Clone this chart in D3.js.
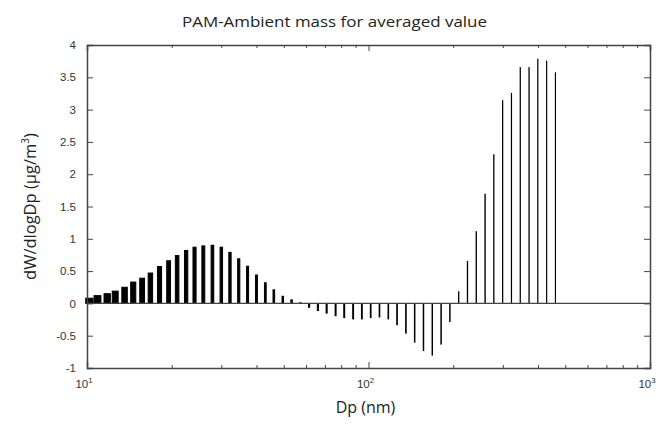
<!DOCTYPE html>
<meta charset="utf-8">
<html>
<head>
<script src="https://d3js.org/d3.v7.min.js"></script>
<style>
  body { margin: 0; background: #fff; }
  .tick text { font-family: "Liberation Sans", Arial, sans-serif; font-size: 11.5px; fill: #333; }
  .axis path, .axis line { stroke: #444; }
</style>
</head>
<body>
<div id="my_dataviz"></div>
<script>
// particle diameter bins (nm), SMPS 32 channels per decade
const dp = [10.2, 10.9, 11.8, 12.6, 13.6, 14.6, 15.7, 16.8, 18.1, 19.5,
            20.9, 22.5, 24.1, 25.9, 27.9, 30.0, 32.2, 34.6, 37.2, 40.0,
            43.0, 46.1, 49.6, 53.3, 57.3, 61.5, 66.1, 71.0, 76.4, 82.0,
            88.2, 94.7, 101.8, 109.4, 117.6, 126.3, 135.8, 145.9, 156.8, 168.5,
            181.1, 194.6, 209.1, 224.7, 241.4, 259.5, 278.8, 299.6, 322.0, 346.0,
            371.8, 399.5, 429.4, 461.4];
// dW/dlogDp difference (PAM - ambient)
const dw = [0.08, 0.12, 0.15, 0.19, 0.25, 0.33, 0.39, 0.47, 0.57, 0.66,
            0.74, 0.82, 0.87, 0.89, 0.90, 0.87, 0.79, 0.69, 0.575, 0.44,
            0.32, 0.21, 0.11, 0.055, 0.01, -0.06, -0.11, -0.15, -0.19, -0.22,
            -0.24, -0.24, -0.22, -0.21, -0.24, -0.33, -0.46, -0.60, -0.73, -0.80,
            -0.63, -0.28, 0.18, 0.65, 1.11, 1.69, 2.30, 3.14, 3.25, 3.65,
            3.65, 3.78, 3.75, 3.57];
const yTicks = [-1, -0.5, 0, 0.5, 1, 1.5, 2, 2.5, 3, 3.5, 4];
const xMajor = [10, 100, 1000];
const xMinor = [20, 30, 40, 50, 60, 70, 80, 90, 200, 300, 400, 500, 600, 700, 800, 900];

const data = dp.map((d, i) => ({dp: d, v: dw[i]}));

const W = 662, H = 426;
const margin = {top: 45, right: 12, bottom: 58, left: 87};
const width = W - margin.left - margin.right,
      height = H - margin.top - margin.bottom;

const svg = d3.select("#my_dataviz")
  .append("svg")
    .attr("width", W)
    .attr("height", H)
  .append("g")
    .attr("transform", `translate(${margin.left},${margin.top})`);

const x = d3.scaleLog().domain([10, 1000]).range([0, width]);
const y = d3.scaleLinear().domain([-1, 4]).range([height, 0]);

// bars: constant width in nm (0.8 x smallest spacing), like matlab bar on log axis
const bw = 0.61;
svg.append("g")
  .selectAll("rect")
  .data(data)
  .join("rect")
    .attr("x", d => x(d.dp - bw / 2))
    .attr("width", d => x(d.dp + bw / 2) - x(d.dp - bw / 2))
    .attr("y", d => y(Math.max(0, d.v)))
    .attr("height", d => Math.abs(y(d.v) - y(0)))
    .attr("fill", "#000")
    .attr("stroke", "#000")
    .attr("stroke-width", 1);

// baseline
svg.append("line")
  .attr("x1", 0).attr("x2", width)
  .attr("y1", y(0)).attr("y2", y(0))
  .attr("stroke", "#444").attr("stroke-width", 1.2);

// axes, ticks pointing inward
const fmtY = d => String(d);
svg.append("g").attr("class", "axis")
  .call(d3.axisLeft(y).tickValues(yTicks).tickSize(-6).tickPadding(11).tickFormat(fmtY));
svg.append("g").attr("class", "axis")
  .attr("transform", `translate(${width},0)`)
  .call(d3.axisRight(y).tickValues(yTicks).tickSize(-6).tickFormat(""));

svg.append("g").attr("class", "axis")
  .attr("transform", `translate(0,${height})`)
  .call(d3.axisBottom(x).tickValues(xMajor).tickSize(-6).tickFormat(""));
svg.append("g").attr("class", "axis")
  .attr("transform", `translate(0,${height})`)
  .call(d3.axisBottom(x).tickValues(xMinor).tickSize(-3).tickFormat(""))
  .select(".domain").remove();
svg.append("g").attr("class", "axis")
  .call(d3.axisTop(x).tickValues(xMajor).tickSize(-6).tickFormat(""));
svg.append("g").attr("class", "axis")
  .call(d3.axisTop(x).tickValues(xMinor).tickSize(-3).tickFormat(""))
  .select(".domain").remove();

svg.selectAll(".axis path.domain").attr("stroke-width", 1.5);

// 10^n labels
const lab = svg.append("g")
  .selectAll("text")
  .data(xMajor)
  .join("text")
    .attr("x", d => x(d) - 3)
    .attr("y", height + 20)
    .attr("text-anchor", "middle")
    .style("font-family", "Liberation Sans, Arial, sans-serif")
    .style("font-size", "11.5px")
    .style("fill", "#333");
lab.append("tspan").text("10");
lab.append("tspan").attr("dy", -5).style("font-size", "8px").text(d => Math.round(Math.log10(d)));

// title and axis labels
svg.append("text")
  .attr("x", 182 - margin.left)
  .attr("y", 27 - margin.top)
  .attr("text-anchor", "start")
  .attr("textLength", 305)
  .attr("lengthAdjust", "spacingAndGlyphs")
  .style("font-family", "Open Sans, Noto Sans, sans-serif")
  .style("font-size", "14.5px")
  .style("fill", "#222")
  .text("PAM-Ambient mass for averaged value");

svg.append("text")
  .attr("x", width / 2 - 3)
  .attr("y", height + 45)
  .attr("text-anchor", "middle")
  .style("font-family", "Open Sans, Noto Sans, sans-serif")
  .style("font-size", "16px")
  .style("fill", "#222")
  .text("Dp (nm)");

const yl = svg.append("text")
  .attr("transform", `translate(-51,${height / 2}) rotate(-90)`)
  .attr("text-anchor", "middle")
  .style("font-family", "Open Sans, Noto Sans, sans-serif")
  .style("font-size", "16.5px")
  .style("fill", "#222");
yl.append("tspan").text("dW/dlogDp (\u03bcg/m");
yl.append("tspan").attr("dy", -7).style("font-size", "10px").text("3");
yl.append("tspan").attr("dy", 7).text(")");
</script>
</body>
</html>
